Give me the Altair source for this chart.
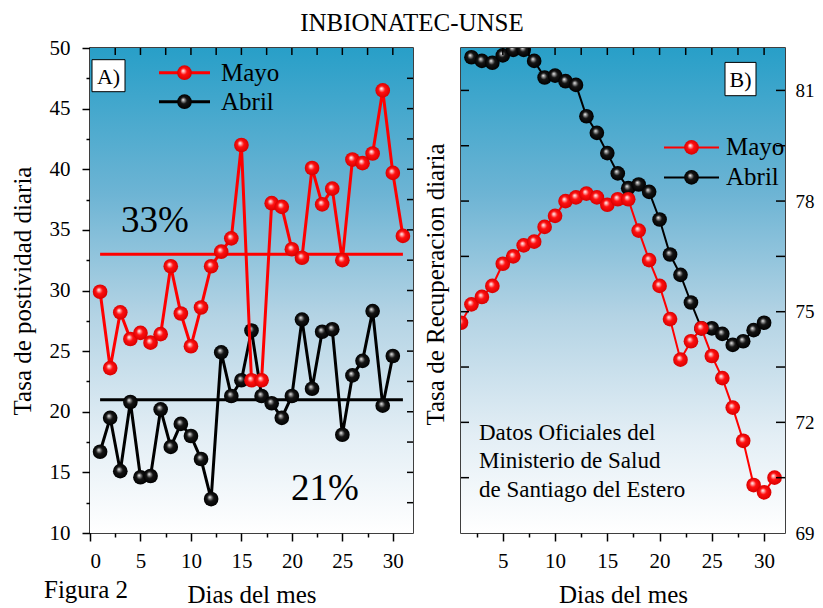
import altair as alt
import pandas as pd

FONT = "Liberation Serif"

# ---------------- data ----------------
dias_mayo = list(range(1, 32))
positividad_mayo = [29.9, 23.6, 28.2, 26.0, 26.5, 25.7, 26.4, 32.0, 28.1, 25.4,
                    28.6, 32.0, 33.2, 34.3, 42.0, 22.6, 22.6, 37.2, 36.9, 33.4,
                    32.7, 40.1, 37.1, 38.4, 32.5, 40.8, 40.5, 41.3, 46.5, 39.7, 34.5]
dias_abril = list(range(1, 31))
positividad_abril = [16.7, 19.5, 15.1, 20.8, 14.6, 14.7, 20.2, 17.1, 19.0, 18.0,
                     16.1, 12.8, 24.9, 21.3, 22.6, 26.7, 21.3, 20.7, 19.5, 21.3,
                     27.6, 21.9, 26.6, 26.8, 18.1, 23.0, 24.2, 28.3, 20.5, 24.6]

recuperacion_mayo = [74.7, 75.2, 75.4, 75.7, 76.3, 76.5, 76.8, 76.9, 77.3, 77.6,
                     78.0, 78.1, 78.2, 78.1, 77.9, 78.05, 78.05, 77.2, 76.4, 75.7,
                     74.8, 73.7, 74.2, 74.55, 73.8, 73.2, 72.4, 71.5, 70.3, 70.1, 70.5]
dias_abril_rec = list(range(2, 31))
recuperacion_abril = [81.9, 81.8, 81.75, 81.95, 82.1, 82.1, 81.8, 81.35, 81.4, 81.25,
                      81.15, 80.3, 79.85, 79.3, 78.75, 78.35, 78.45, 78.25, 77.5, 76.55,
                      76.0, 75.25, 74.55, 74.55, 74.4, 74.1, 74.2, 74.5, 74.7]

promedio_mayo = [33]
promedio_abril = [21]
promedio_labels = ["33%", "21%"]
series_names = ["Mayo", "Abril"]
panel_labels = ["A)", "B)"]
nota = "Datos Oficiales del\nMinisterio de Salud\nde Santiago del Estero"
titulo = "INBIONATEC-UNSE"
figura = "Figura 2"

xL_ticks = [0, 2.5, 5, 7.5, 10, 12.5, 15, 17.5, 20, 22.5, 25, 27.5, 30]
xR_ticks = [2.5, 5, 7.5, 10, 12.5, 15, 17.5, 20, 22.5, 25, 27.5, 30]
yL_ticks = [10, 12.5, 15, 17.5, 20, 22.5, 25, 27.5, 30, 32.5, 35, 37.5, 40, 42.5, 45, 47.5, 50]
yR_ticks = [69, 70.5, 72, 73.5, 75, 76.5, 78, 79.5, 81]

# ---------------- styling helpers ----------------
W, H = 323, 485
W2 = 324
RED = "#ff0000"


def sphere(main, dark, hl):
    return alt.RadialGradient(
        gradient="radial", x1=0.4, y1=0.36, r1=0, x2=0.5, y2=0.5, r2=0.5,
        stops=[alt.GradientStop(offset=0, color="#ffffff"),
               alt.GradientStop(offset=0.16, color=hl),
               alt.GradientStop(offset=0.45, color=main),
               alt.GradientStop(offset=1, color=dark)])


RED_BALL = sphere("#ff1010", "#d80000", "#ffb0b0")
BLACK_BALL = sphere("#151515", "#000000", "#a0a0a0")

BG = alt.LinearGradient(
    gradient="linear", x1=0, x2=0, y1=0, y2=1,
    stops=[alt.GradientStop(offset=0, color="#289fc8"),
           alt.GradientStop(offset=0.3, color="#6db4d4"),
           alt.GradientStop(offset=0.55, color="#b3d3e4"),
           alt.GradientStop(offset=0.8, color="#e3eef5"),
           alt.GradientStop(offset=1, color="#ffffff")])

major5 = {"condition": {"test": "datum.value % 5 === 0", "value": 8}, "value": 4}

xL = alt.X("dia:Q", scale=alt.Scale(domain=[0, 32], nice=False, zero=False),
           axis=alt.Axis(values=xL_ticks, labelExpr="datum.value % 5 === 0 ? datum.label : ''",
                         tickSize=major5, labelPadding=9, title="Dias del mes",
                         titlePadding=11, grid=False, domain=False))
yL = alt.Y("valor:Q", scale=alt.Scale(domain=[10, 50], nice=False, zero=False),
           axis=alt.Axis(values=yL_ticks, labelExpr="datum.value % 5 === 0 ? datum.label : ''",
                         tickSize=major5, labelPadding=12, title="Tasa de postividad diaria",
                         titlePadding=14, grid=False, domain=False))

xR = alt.X("dia:Q", scale=alt.Scale(domain=[1, 32], nice=False, zero=False),
           axis=alt.Axis(values=xR_ticks, labelExpr="datum.value % 5 === 0 ? datum.label : ''",
                         tickSize=major5, labelPadding=9, title="Dias del mes",
                         titlePadding=11, grid=False, domain=False))
yR = alt.Y("valor:Q", scale=alt.Scale(domain=[69, 82.15], nice=False, zero=False),
           axis=alt.Axis(values=yR_ticks, orient="right",
                         labelExpr="datum.value % 3 === 0 ? datum.label : ''",
                         ticks=False, labelPadding=10, labelFontSize=19, title=None,
                         grid=False, domain=False))


def one(**kw):
    return pd.DataFrame({k: [v] for k, v in kw.items()})


def background(w):
    return alt.Chart(one(bg=0)).mark_rect(fill=BG).encode(
        x=alt.value(0), x2=alt.value(w), y=alt.value(0), y2=alt.value(H))


def series(dias, vals, x, y, color, ball, width):
    df = pd.DataFrame({"dia": dias, "valor": vals})
    line = alt.Chart(df).mark_line(color=color, strokeWidth=width, clip=True).encode(x=x, y=y)
    pts = alt.Chart(df).mark_point(filled=True, size=215, fill=ball, opacity=1,
                                   strokeWidth=0, clip=True).encode(x=x, y=y)
    return [line, pts]


def inward_ticks(w, x, y, xt, yt, xlen, ylen):
    dfx = pd.DataFrame({"dia": xt})
    dfy = pd.DataFrame({"valor": yt})
    top = alt.Chart(dfx).mark_rule(color="black", strokeWidth=1.5).encode(
        x=x, y=alt.value(0), y2=alt.value(xlen))
    right = alt.Chart(dfy).mark_rule(color="black", strokeWidth=1.5).encode(
        y=y, x=alt.value(w - ylen), x2=alt.value(w))
    return [top, right]


def label_box(text, x0, x1, y0, y1):
    box = alt.Chart(one(t=text)).mark_rect(fill="white", stroke="black", strokeWidth=1).encode(
        x=alt.value(x0), x2=alt.value(x1), y=alt.value(y0), y2=alt.value(y1))
    txt = alt.Chart(one(t=text)).mark_text(font=FONT, fontSize=22, align="center",
                                           baseline="middle", color="black").encode(
        x=alt.value((x0 + x1) / 2), y=alt.value((y0 + y1) / 2 + 1), text="t:N")
    return [box, txt]


def legend_entry(name, color, ball, lx0, lx1, ly, tx, width):
    d = one(t=name)
    ln = alt.Chart(d).mark_rule(color=color, strokeWidth=width).encode(
        x=alt.value(lx0), x2=alt.value(lx1), y=alt.value(ly))
    pt = alt.Chart(d).mark_point(filled=True, size=215, fill=ball, opacity=1, strokeWidth=0).encode(
        x=alt.value((lx0 + lx1) / 2), y=alt.value(ly))
    tx_ = alt.Chart(d).mark_text(font=FONT, fontSize=25, align="left", baseline="middle",
                                 color="black").encode(
        x=alt.value(tx), y=alt.value(ly), text="t:N")
    return [ln, pt, tx_]


def text_at(s, x, y, size, align="center", baseline="middle", angle=0):
    return alt.Chart(one(t=s)).mark_text(font=FONT, fontSize=size, align=align, baseline=baseline,
                                         angle=angle, color="black", lineHeight=28.3,
                                         lineBreak="\n").encode(
        x=alt.value(x), y=alt.value(y), text="t:N")


# ---------------- panel A ----------------
mean_may = pd.DataFrame({"dia": [1], "dia2": [31], "valor": promedio_mayo})
mean_apr = pd.DataFrame({"dia": [1], "dia2": [31], "valor": promedio_abril})
rule_may = alt.Chart(mean_may).mark_rule(color=RED, strokeWidth=3).encode(x=xL, x2="dia2:Q", y=yL)
rule_apr = alt.Chart(mean_apr).mark_rule(color="black", strokeWidth=3).encode(x=xL, x2="dia2:Q", y=yL)

layers_A = [background(W), rule_may, rule_apr]
layers_A += series(dias_abril, positividad_abril, xL, yL, "black", BLACK_BALL, 3)
layers_A += series(dias_mayo, positividad_mayo, xL, yL, RED, RED_BALL, 3)
layers_A += inward_ticks(W, xL, yL, xL_ticks[1:], yL_ticks[1:-1], 7, 6)
layers_A += label_box(panel_labels[0], 2, 35, 11.7, 43.7)
layers_A += legend_entry(series_names[0], RED, RED_BALL, 69, 120, 24.7, 131, 3)
layers_A += legend_entry(series_names[1], "black", BLACK_BALL, 69, 120, 53.7, 131, 3)
layers_A += [text_at(promedio_labels[0], 65, 172.7, 37),
             text_at(promedio_labels[1], 235, 441, 37),
             text_at(figura, -46, 542, 25, align="left")]

panelA = alt.layer(*layers_A).properties(width=W, height=H)

# ---------------- panel B ----------------
layers_B = [background(W2)]
layers_B += series(dias_abril_rec, recuperacion_abril, xR, yR, "black", BLACK_BALL, 2)
layers_B += series(dias_mayo, recuperacion_mayo, xR, yR, RED, RED_BALL, 2)
layers_B += inward_ticks(W2, xR, yR, xR_ticks[1:], yR_ticks[1:], 7, 9)
left_ticks_B = alt.Chart(pd.DataFrame({"valor": yR_ticks[1:]})).mark_rule(
    color="black", strokeWidth=1.5).encode(y=yR, x=alt.value(0), x2=alt.value(8))
layers_B += [left_ticks_B]
layers_B += label_box(panel_labels[1], 264, 295, 14.4, 47.7)
layers_B += legend_entry(series_names[0], RED, RED_BALL, 203, 258, 99.4, 265, 2)
layers_B += legend_entry(series_names[1], "black", BLACK_BALL, 203, 258, 129.4, 265, 2)
layers_B += [text_at(nota, 18, 392, 23, align="left", baseline="alphabetic"),
             text_at("Tasa de Recuperacion diaria", -25, H / 2 - 6, 25, angle=270)]

panelB = alt.layer(*layers_B).properties(width=W2, height=H)

chart = alt.hconcat(panelA, panelB, spacing=8).properties(
    title=alt.Title(titulo, font=FONT, fontSize=25, fontWeight="normal", anchor="middle",
                    offset=0, color="black"),
    padding={"left": 1, "top": 3, "right": 0, "bottom": 0},
).configure_view(stroke="black", strokeWidth=1.5).configure_axis(
    labelFont=FONT, titleFont=FONT, labelFontSize=21, titleFontSize=25,
    titleFontWeight="normal", labelColor="black", titleColor="black",
    tickColor="black", tickWidth=1.5,
)

chart.save("out.html", embed_options={"renderer": "svg", "actions": False})
